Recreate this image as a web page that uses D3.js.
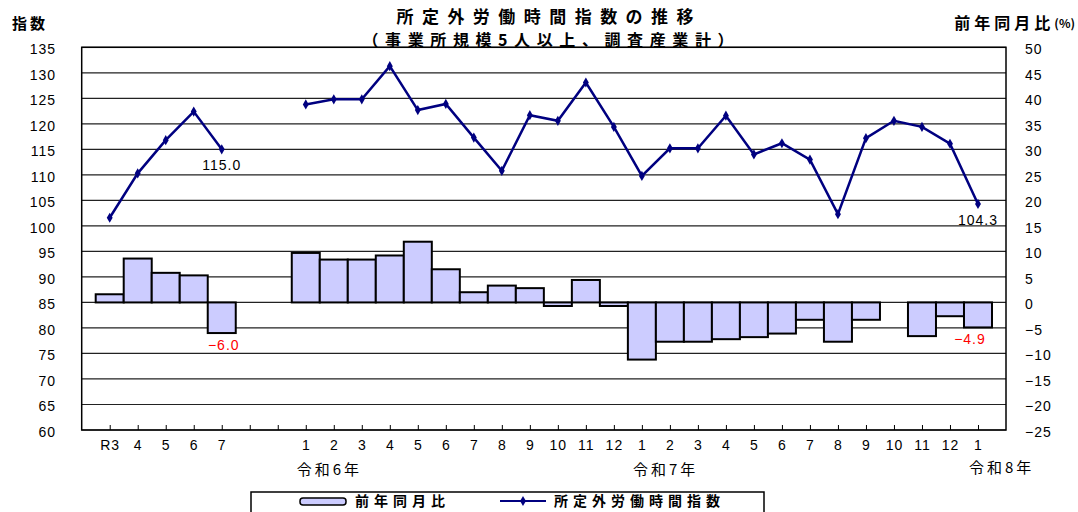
<!DOCTYPE html>
<html>
<head>
<meta charset="utf-8">
<script src="https://cdn.jsdelivr.net/npm/d3@7"></script>
<style>
  body { margin: 0; background: #fff; }
  svg { display: block; font-family: "Liberation Sans", Arial, sans-serif; }
  .jp { font-family: "Noto Sans CJK JP", sans-serif; }
  .grid line { stroke: #222; stroke-width: 1.2; }
  .tick-label { font-size: 14px; letter-spacing: 1px; fill: #000; }
</style>
</head>
<body>
<svg id="chart" width="1078" height="512"></svg>
<script>
// カテゴリ (空白2つは欠測月)
const labels = ['R3', '4', '5', '6', '7', '', '',
  '1', '2', '3', '4', '5', '6', '7', '8', '9', '10', '11', '12',
  '1', '2', '3', '4', '5', '6', '7', '8', '9', '10', '11', '12',
  '1'];
// 所定外労働時間指数
const indexValues = [101.6, 110.3, 116.8, 122.4, 115.0, null, null,
  123.8, 124.8, 124.8, 131.3, 122.7, 123.9, 117.3, 110.8, 121.7, 120.6, 128.1, 119.4,
  109.8, 115.2, 115.2, 121.6, 114.0, 116.2, 113.0, 102.3, 117.2, 120.6, 119.4, 116.1,
  104.3];
// 前年同月比(%)
const yoyValues = [1.6, 8.6, 5.8, 5.3, -6.0, null, null,
  9.7, 8.4, 8.4, 9.2, 11.9, 6.5, 2.0, 3.3, 2.8, -0.7, 4.4, -0.7,
  -11.2, -7.7, -7.7, -7.2, -6.8, -6.1, -3.4, -7.7, -3.4, null, -6.6, -2.7,
  -4.9];
const leftTicks = d3.range(60, 136, 5);
const rightTicks = d3.range(-25, 51, 5);
const yearLabels = [
  { at: 7, text: '令和6年' },
  { at: 19, text: '令和7年' },
  { at: 31, text: '令和8年' },
];
// 数値ラベルを付ける点
const lineNotes = [4, 31];
const barNotes = [4, 31];

const svg = d3.select('#chart');
const plot = { left: 81.7, right: 1006, top: 47.3, bottom: 430 };

const xScale = d3.scalePoint().domain(d3.range(labels.length)).range([plot.left, plot.right]).padding(1);
const step = xScale.step();
const yLeft = d3.scaleLinear().domain([60, 135]).range([plot.bottom, plot.top]);
const yRight = d3.scaleLinear().domain([-25, 50]).range([plot.bottom, plot.top]);

// 横グリッド線
svg.append('g')
  .attr('class', 'grid')
  .selectAll('line')
  .data(leftTicks)
  .enter()
  .append('line')
  .attr('x1', plot.left)
  .attr('x2', plot.right)
  .attr('y1', d => yLeft(d))
  .attr('y2', d => yLeft(d));

// 棒 (前年同月比)
svg.append('g')
  .selectAll('rect')
  .data(yoyValues.map((v, i) => ({ v, i })).filter(d => d.v !== null))
  .enter()
  .append('rect')
  .attr('x', d => xScale(d.i) - step / 2)
  .attr('y', d => Math.min(yRight(d.v), yRight(0)))
  .attr('width', step)
  .attr('height', d => Math.abs(yRight(d.v) - yRight(0)))
  .attr('fill', '#ccccff')
  .attr('stroke', '#000')
  .attr('stroke-width', 2);

// 外枠
svg.append('rect')
  .attr('x', plot.left)
  .attr('y', plot.top)
  .attr('width', plot.right - plot.left)
  .attr('height', plot.bottom - plot.top)
  .attr('fill', 'none')
  .attr('stroke', '#000')
  .attr('stroke-width', 1.5);

// x軸の目盛り (内向き)
const xAxis = svg.append('g').attr('transform', `translate(0, ${plot.bottom})`);
xAxis.call(d3.axisBottom(xScale).tickSize(-5).tickFormat(i => labels[i]));
xAxis.select('.domain').remove();
xAxis.selectAll('.tick line').attr('stroke', '#000');
xAxis.selectAll('.tick text')
  .attr('class', 'tick-label')
  .attr('y', 16)
  .attr('dy', '0.32em');
xAxis.attr('font-size', null).attr('font-family', null);

// 年ラベル
svg.append('g')
  .selectAll('text')
  .data(yearLabels)
  .enter()
  .append('text')
  .attr('class', 'jp')
  .attr('x', d => xScale(d.at) - 9)
  .attr('y', d => (d.at === 31 ? 473 : 475))
  .attr('font-size', 15)
  .attr('letter-spacing', 3)
  .text(d => d.text);

// 左軸ラベル
svg.append('g')
  .selectAll('text')
  .data(leftTicks)
  .enter()
  .append('text')
  .attr('class', 'tick-label')
  .attr('x', 56)
  .attr('y', d => yLeft(d) + 2)
  .attr('text-anchor', 'end')
  .attr('dominant-baseline', 'central')
  .text(d => d);

// 右軸ラベル
svg.append('g')
  .selectAll('text')
  .data(rightTicks)
  .enter()
  .append('text')
  .attr('class', 'tick-label')
  .attr('x', 1025)
  .attr('y', d => yRight(d) + 2)
  .attr('dominant-baseline', 'central')
  .text(d => d3.format('d')(d));

// 折れ線 (所定外労働時間指数)
const line = d3.line()
  .defined(d => d !== null)
  .x((d, i) => xScale(i))
  .y(d => yLeft(d));

svg.append('path')
  .datum(indexValues)
  .attr('d', line)
  .attr('fill', 'none')
  .attr('stroke', '#000080')
  .attr('stroke-width', 2.5);

svg.append('g')
  .selectAll('path')
  .data(indexValues.map((v, i) => ({ v, i })).filter(d => d.v !== null))
  .enter()
  .append('path')
  .attr('transform', d => `translate(${xScale(d.i)}, ${yLeft(d.v)})`)
  .attr('d', d3.symbol(d3.symbolDiamond, 30))
  .attr('fill', '#000080');

// 数値ラベル
svg.append('g')
  .selectAll('text')
  .data(lineNotes)
  .enter()
  .append('text')
  .attr('class', 'tick-label')
  .attr('x', i => xScale(i))
  .attr('y', i => yLeft(indexValues[i]) + 16)
  .attr('text-anchor', 'middle')
  .attr('dominant-baseline', 'central')
  .text(i => indexValues[i].toFixed(1));

svg.append('g')
  .selectAll('text')
  .data(barNotes)
  .enter()
  .append('text')
  .attr('class', 'tick-label')
  .attr('x', i => xScale(i) + (i === 31 ? -8 : 2))
  .attr('y', i => yRight(yoyValues[i]) + 12)
  .attr('text-anchor', 'middle')
  .attr('dominant-baseline', 'central')
  .style('fill', '#ff0000')
  .text(i => d3.format('.1f')(yoyValues[i]));

// タイトル
svg.append('text')
  .attr('class', 'jp')
  .attr('x', 545)
  .attr('y', 23)
  .attr('text-anchor', 'middle')
  .attr('font-size', 17)
  .attr('font-weight', 'bold')
  .attr('textLength', 297)
  .attr('lengthAdjust', 'spacing')
  .text('所定外労働時間指数の推移');

svg.append('text')
  .attr('class', 'jp')
  .attr('x', 548)
  .attr('y', 46)
  .attr('text-anchor', 'middle')
  .attr('font-size', 16)
  .attr('font-weight', 'bold')
  .attr('textLength', 371)
  .attr('lengthAdjust', 'spacing')
  .text('（事業所規模5人以上、調査産業計）');

svg.append('text')
  .attr('class', 'jp')
  .attr('x', 12)
  .attr('y', 22)
  .attr('dominant-baseline', 'central')
  .attr('font-size', 15)
  .attr('font-weight', 'bold')
  .attr('letter-spacing', 3)
  .text('指数');

const rTitle = svg.append('text')
  .attr('class', 'jp')
  .attr('x', 1075)
  .attr('y', 22)
  .attr('text-anchor', 'end')
  .attr('dominant-baseline', 'central')
  .attr('font-size', 16)
  .attr('font-weight', 'bold');
rTitle.append('tspan').attr('letter-spacing', 4).text('前年同月比');
rTitle.append('tspan').attr('font-size', 12).text('(%)');

// 凡例
const legend = svg.append('g');
legend.append('rect')
  .attr('x', 251)
  .attr('y', 492)
  .attr('width', 513)
  .attr('height', 40)
  .attr('fill', '#fff')
  .attr('stroke', '#000')
  .attr('stroke-width', 1.5);
legend.append('rect')
  .attr('x', 300)
  .attr('y', 498)
  .attr('width', 46)
  .attr('height', 7)
  .attr('rx', 3)
  .attr('fill', '#ccccff')
  .attr('stroke', '#000')
  .attr('stroke-width', 1.5);
legend.append('text')
  .attr('class', 'jp')
  .attr('x', 355)
  .attr('y', 506)
  .attr('font-size', 14)
  .attr('font-weight', 'bold')
  .attr('letter-spacing', 5)
  .text('前年同月比');
legend.append('line')
  .attr('x1', 500)
  .attr('x2', 546)
  .attr('y1', 501)
  .attr('y2', 501)
  .attr('stroke', '#000080')
  .attr('stroke-width', 2);
legend.append('path')
  .attr('transform', 'translate(523, 501)')
  .attr('d', d3.symbol(d3.symbolDiamond, 30))
  .attr('fill', '#000080');
legend.append('text')
  .attr('class', 'jp')
  .attr('x', 554)
  .attr('y', 506)
  .attr('font-size', 14)
  .attr('font-weight', 'bold')
  .attr('letter-spacing', 5)
  .text('所定外労働時間指数');
</script>
</body>
</html>
